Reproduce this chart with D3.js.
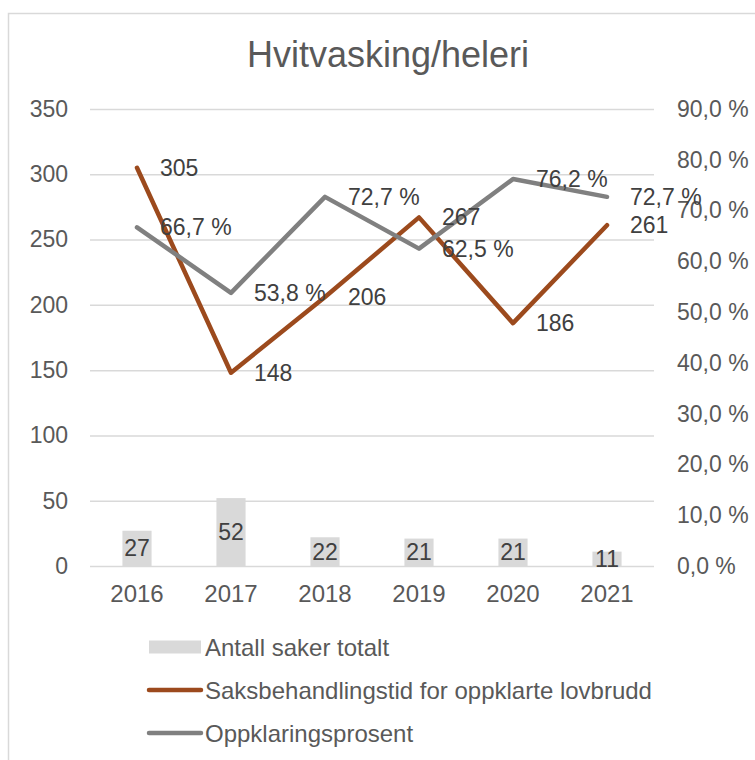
<!DOCTYPE html>
<html>
<head>
<meta charset="utf-8">
<script src="https://cdn.jsdelivr.net/npm/d3@7"></script>
<style>
  body { margin: 0; background: #fff; }
  text { font-family: "Liberation Sans", Arial, sans-serif; fill: #595959; }
</style>
</head>
<body>
<div id="chart"></div>
<script>
// data
const years = ["2016", "2017", "2018", "2019", "2020", "2021"];
const antallSaker = [27, 52, 22, 21, 21, 11];
const saksbehandlingstid = [305, 148, 206, 267, 186, 261];
const oppklaring = [0.667, 0.538, 0.727, 0.625, 0.762, 0.727];
const leftTicks = [0, 50, 100, 150, 200, 250, 300, 350];
const rightTicks = [0, 0.1, 0.2, 0.3, 0.4, 0.5, 0.6, 0.7, 0.8, 0.9];
const legendNames = ["Antall saker totalt", "Saksbehandlingstid for oppklarte lovbrudd", "Oppklaringsprosent"];

const width = 755, height = 760;
const plot = { left: 90, right: 654, top: 109, bottom: 566 };

const barColor = "#d9d9d9", orange = "#9c4a1d", grey = "#808080";

const no = d3.formatLocale({ decimal: ",", thousands: " ", grouping: [3], currency: ["", " kr"], percent: " %" });
const pct = no.format(".1%");

const svg = d3.select("#chart").append("svg")
    .attr("width", width)
    .attr("height", height);

// ramme
svg.append("rect")
    .attr("x", 8.5).attr("y", 13.5)
    .attr("width", 900).attr("height", 900)
    .attr("fill", "none")
    .attr("stroke", "#d9d9d9")
    .attr("stroke-width", 1.5);

svg.append("text")
    .attr("x", 388).attr("y", 67)
    .attr("text-anchor", "middle")
    .style("font-size", "36px")
    .text("Hvitvasking/heleri");

const x = d3.scaleBand().domain(years).range([plot.left, plot.right]).paddingInner(0.69).paddingOuter(0.345);
const xc = d => x(d) + x.bandwidth() / 2;
const yL = d3.scaleLinear().domain([0, 350]).range([plot.bottom, plot.top]);
const yR = d3.scaleLinear().domain([0, 0.9]).range([plot.bottom, plot.top]);

// gridlines
svg.append("g")
    .attr("transform", "translate(" + plot.left + ",0)")
    .call(d3.axisLeft(yL).tickValues(leftTicks).tickSize(-(plot.right - plot.left)).tickFormat(""))
    .call(g => g.select(".domain").remove())
    .call(g => g.selectAll("line").attr("stroke", "#d9d9d9").attr("stroke-width", 1.5));

// venstre akse
svg.append("g")
    .attr("transform", "translate(" + plot.left + ",0)")
    .call(d3.axisLeft(yL).tickValues(leftTicks).tickSize(0).tickPadding(22))
    .call(g => g.select(".domain").remove())
    .call(g => g.selectAll("text").style("font-size", "23px").attr("fill", "#595959"));

// høyre akse
svg.append("g")
    .attr("transform", "translate(" + plot.right + ",0)")
    .call(d3.axisRight(yR).tickValues(rightTicks).tickSize(0).tickPadding(23).tickFormat(pct))
    .call(g => g.select(".domain").remove())
    .call(g => g.selectAll("text").style("font-size", "23px").attr("fill", "#595959"));

// x-akse
svg.append("g")
    .attr("transform", "translate(0," + plot.bottom + ")")
    .call(d3.axisBottom(x).tickSize(0).tickPadding(19))
    .call(g => g.select(".domain").remove())
    .call(g => g.selectAll("text").style("font-size", "24px").attr("fill", "#595959"));

// stolper
svg.selectAll("rect.bar")
    .data(antallSaker)
    .enter()
    .append("rect")
    .attr("class", "bar")
    .attr("x", (d, i) => x(years[i]))
    .attr("y", d => yL(d))
    .attr("width", x.bandwidth())
    .attr("height", d => plot.bottom - yL(d))
    .attr("fill", barColor);

const lineL = d3.line().x((d, i) => xc(years[i])).y(d => yL(d));
const lineR = d3.line().x((d, i) => xc(years[i])).y(d => yR(d));

svg.append("path")
    .datum(saksbehandlingstid)
    .attr("d", lineL)
    .attr("fill", "none")
    .attr("stroke", orange)
    .attr("stroke-width", 4.5)
    .attr("stroke-linejoin", "round")
    .attr("stroke-linecap", "round");

svg.append("path")
    .datum(oppklaring)
    .attr("d", lineR)
    .attr("fill", "none")
    .attr("stroke", grey)
    .attr("stroke-width", 4.5)
    .attr("stroke-linejoin", "round")
    .attr("stroke-linecap", "round");

// dataetiketter
svg.selectAll("text.barlab")
    .data(antallSaker)
    .enter()
    .append("text")
    .attr("class", "barlab")
    .attr("x", (d, i) => xc(years[i]))
    .attr("y", d => (yL(d) + plot.bottom) / 2)
    .attr("text-anchor", "middle")
    .attr("dominant-baseline", "central")
    .style("font-size", "23px")
    .style("fill", "#404040")
    .text(d => d);

svg.selectAll("text.tidlab")
    .data(saksbehandlingstid)
    .enter()
    .append("text")
    .attr("class", "tidlab")
    .attr("x", (d, i) => xc(years[i]) + 23)
    .attr("y", d => yL(d))
    .attr("dominant-baseline", "central")
    .style("font-size", "23px")
    .style("fill", "#404040")
    .text(d => d);

svg.selectAll("text.pctlab")
    .data(oppklaring)
    .enter()
    .append("text")
    .attr("class", "pctlab")
    .attr("x", (d, i) => xc(years[i]) + 23)
    .attr("y", d => yR(d))
    .attr("dominant-baseline", "central")
    .style("font-size", "23px")
    .style("fill", "#404040")
    .text(d => pct(d));

// legend
const legend = svg.append("g");
const legY = [647, 690, 733];
legend.append("rect")
    .attr("x", 149).attr("y", legY[0] - 6.5)
    .attr("width", 52).attr("height", 13)
    .attr("fill", barColor);
[orange, grey].forEach(function (c, i) {
    legend.append("line")
        .attr("x1", 149).attr("x2", 201)
        .attr("y1", legY[i + 1]).attr("y2", legY[i + 1])
        .attr("stroke", c)
        .attr("stroke-width", 4.5)
        .attr("stroke-linecap", "round");
});
legend.selectAll("text")
    .data(legendNames)
    .enter()
    .append("text")
    .attr("x", 205)
    .attr("y", (d, i) => legY[i])
    .attr("dominant-baseline", "central")
    .style("font-size", "24px")
    .text(d => d);
</script>
</body>
</html>
